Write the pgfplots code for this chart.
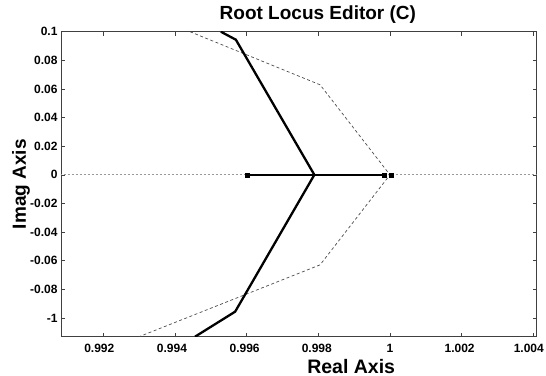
\documentclass[border=0pt]{standalone}
\usepackage{pgfplots}
\pgfplotsset{compat=1.18}
\usepackage{fontspec}
\setmainfont{Liberation Sans}
\begin{document}
\begin{tikzpicture}
\begin{axis}[
  scale only axis, width=475.7bp, height=305bp,
  xmin=0.99082, xmax=1.004095, ymin=-0.1131, ymax=0.1,
  scaled x ticks=false, scaled y ticks=false,
  xtick={0.992,0.994,0.996,0.998,1,1.002,1.004},
  xticklabels={\hspace{-8bp}0.992,\hspace{-6bp}0.994,\hspace{-4bp}0.996,\hspace{-3bp}0.998,1,\hspace{-4bp}1.002,\hspace{-9bp}1.004},
  ytick={-0.1,-0.08,-0.06,-0.04,-0.02,0,0.02,0.04,0.06,0.08,0.1},
  yticklabels={-1,-0.08,-0.06,-0.04,-0.02,0,0.02,0.04,0.06,0.08,0.1},
  tick align=inside, major tick length=4bp,
  axis line style={draw=black!75, line width=0.8bp},
  tick style={draw=black!75, line width=0.6bp},
  ticklabel style={font=\fontsize{12bp}{14bp}\selectfont\bfseries},
  xticklabel style={yshift=-4bp},
  title={Root Locus Editor (C)},
  title style={font=\fontsize{19bp}{22bp}\selectfont\bfseries, at={(rel axis cs:0.54,1)}, anchor=base, yshift=6.7bp},
  xlabel={Real Axis},
  xlabel style={font=\fontsize{19.5bp}{22bp}\selectfont\bfseries, at={(rel axis cs:0.61,0)}, anchor=base, yshift=-36.5bp},
  ylabel={Imag Axis},
  ylabel style={font=\fontsize{19bp}{22bp}\selectfont\bfseries, at={(rel axis cs:0,0.5)}, anchor=base, yshift=35bp, xshift=0bp},
]
\coordinate (bl) at (rel axis cs:0,0);
\addplot[color=black!40, line width=0.8bp, dash pattern=on 2bp off 2bp] coordinates {(0.99,0) (1.005,0)};
\addplot[color=black!70, line width=0.7bp, dash pattern=on 3bp off 2.5bp] coordinates {
  (0.99442,0.1) (0.99805,0.0629) (1.0,0) (0.99805,-0.0629) (0.9930,-0.1131)};
\addplot[black, line width=2.3bp] coordinates {
  (0.99528,0.1) (0.9957,0.0944) (0.99789,0) (0.99568,-0.0956) (0.99456,-0.1131)};
\addplot[black, line width=2.3bp] coordinates {(0.99602,0) (0.99991,0)};
\addplot[only marks, mark=square*, mark size=2bp, black] coordinates {(0.99602,0) (0.99985,0) (1.00003,0)};
\end{axis}
\pgfresetboundingbox
\path (bl) ++(-61bp,-39.3bp) rectangle ++(546bp,376bp);
\end{tikzpicture}
\end{document}
